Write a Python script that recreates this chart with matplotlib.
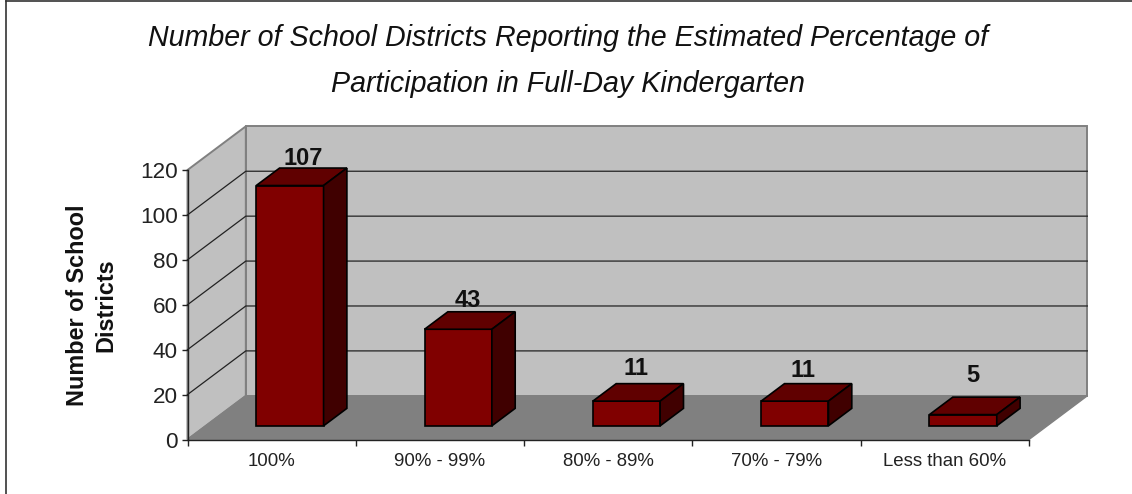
from matplotlib import pyplot as plt, rcParams
from matplotlib.lines import Line2D
from matplotlib.patches import Polygon
from matplotlib.transforms import ScaledTranslation

rcParams['font.family'] = ['Liberation Sans', 'DejaVu Sans']

categories = ['100%', '90% - 99%', '80% - 89%', '70% - 79%', 'Less than 60%']
districts = [107, 43, 11, 11, 5]
y_ticks = [0, 20, 40, 60, 80, 100, 120]

title = ('Number of School Districts Reporting the Estimated Percentage of\n'
         'Participation in Full-Day Kindergarten')
y_label = 'Number of School\nDistricts'

# 假3D的进深：整个进深对应的x、y偏移（数据单位）
DEPTH_X = 0.3465
DEPTH_Y = 19.45
BAR_WIDTH = 0.4
BAR_DEPTH = (0.313, 0.713)


def proj(x, y, d=0.0):
    return (x + d * DEPTH_X, y + d * DEPTH_Y)


W, H = 1132, 494
fig = plt.figure(figsize=(W / 100, H / 100), dpi=100)
left, right, bottom, top = 187.5, 1029.0, 439.5, 170.0
ax = fig.add_axes([left / W, 1 - bottom / H, (right - left) / W, (bottom - top) / H])
n = len(categories)
ax.set_xlim(0, n)
ax.set_ylim(0, 120)
ax.patch.set_visible(False)

# 左边和上边的外框
fig.add_artist(Line2D([5.5 / W, 5.5 / W], [0, 1 - 1.5 / H], color='#333333', lw=1.2))
fig.add_artist(Line2D([5.5 / W, 1], [1 - 1.5 / H, 1 - 1.5 / H], color='#333333', lw=1.2))


def face(points, color, edge, lw=1.0, z=1):
    ax.add_patch(Polygon(points, closed=True, facecolor=color, edgecolor=edge,
                         linewidth=lw, clip_on=False, zorder=z, joinstyle='miter'))


# 背景墙、侧墙、地面
face([proj(0, 0, 1), proj(n, 0, 1), proj(n, 120, 1), proj(0, 120, 1)], '#C0C0C0', '#808080', 1.4)
face([proj(0, 0), proj(0, 0, 1), proj(0, 120, 1), proj(0, 120)], '#C0C0C0', '#808080', 1.4)
face([proj(0, 0), proj(n, 0), proj(n, 0, 1), proj(0, 0, 1)], '#808080', '#808080', 1.0)

# 网格线
for t in y_ticks[1:-1]:
    xs, ys = zip(proj(0, t), proj(0, t, 1), proj(n, t, 1))
    ax.plot(xs, ys, color='#222222', lw=0.9, clip_on=False, zorder=2)

# 柱子
d0, d1 = BAR_DEPTH
for i, v in enumerate(districts):
    x0 = i + (1 - BAR_WIDTH) / 2
    x1 = x0 + BAR_WIDTH
    face([proj(x0, 0, d0), proj(x1, 0, d0), proj(x1, v, d0), proj(x0, v, d0)], '#800000', 'black', 1.2, 3)
    face([proj(x0, v, d0), proj(x1, v, d0), proj(x1, v, d1), proj(x0, v, d1)], '#600000', 'black', 1.2, 3)
    face([proj(x1, 0, d0), proj(x1, 0, d1), proj(x1, v, d1), proj(x1, v, d0)], '#400000', 'black', 1.2, 3)

# 数值标签，相对柱顶的偏移（像素）各不相同
label_dx = [2, -2, -2, -3, -2]
label_gaps = [3, 4.7, 9, 6.7, 15]
for i, v in enumerate(districts):
    lx = proj(i + 0.5, v, 0.5 * (d0 + d1))[0]
    ly = proj(i + 0.5, v, d1)[1]
    offset = ScaledTranslation(label_dx[i] / 100, label_gaps[i] / 100, fig.dpi_scale_trans)
    ax.text(lx, ly, str(v), ha='center', va='baseline', fontsize=17, fontweight='bold',
            color='#111111', clip_on=False, zorder=4, transform=ax.transData + offset)

# 坐标轴
for s in ['top', 'right']:
    ax.spines[s].set_visible(False)
for s in ['left', 'bottom']:
    ax.spines[s].set_color('#222222')
    ax.spines[s].set_linewidth(1.0)
    ax.spines[s].set_zorder(5)
ax.set_yticks(y_ticks)
ax.tick_params(axis='y', labelsize=16.2, length=4, width=1.0, pad=3, color='#222222', labelcolor='#222222')
ax.set_xticks(range(n + 1))
ax.set_xticklabels([])
ax.tick_params(axis='x', which='major', length=4, width=1.0, color='#222222')
ax.set_xticks([i + 0.5 for i in range(n)], minor=True)
ax.set_xticklabels(categories, minor=True)
ax.tick_params(axis='x', which='minor', length=0, labelsize=13.4, pad=10, labelcolor='#222222')

fig.text(568 / W, 1 - 46 / H, title.split('\n')[0], ha='center', va='baseline', fontsize=20.6,
         style='italic', color='#111111')
fig.text(568 / W, 1 - 92 / H, title.split('\n')[1], ha='center', va='baseline', fontsize=20.6,
         style='italic', color='#111111')
fig.text(92 / W, 1 - 305 / H, y_label, rotation=90, ha='center', va='center', fontsize=16.8,
         fontweight='bold', color='#111111', linespacing=1.3)

plt.savefig('out.png', dpi=100)
